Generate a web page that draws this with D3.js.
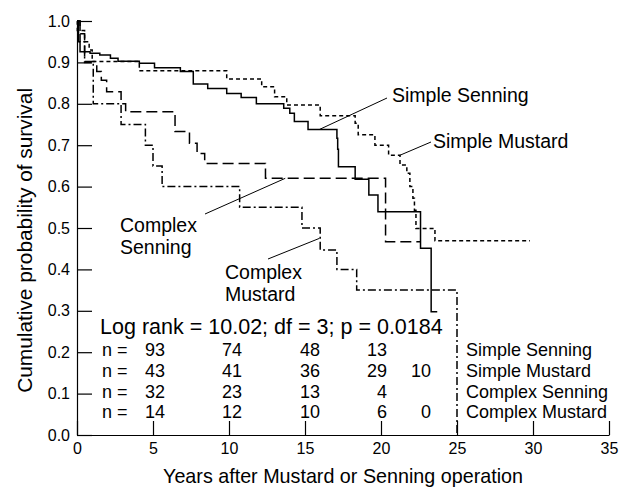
<!DOCTYPE html>
<html><head><meta charset="utf-8">
<script src="https://cdn.jsdelivr.net/npm/d3@7"></script>
<style>
body{margin:0;background:#fff}
text{font-family:"Liberation Sans",Arial,sans-serif;fill:#000}
</style>
</head><body>
<svg id="chart" width="620" height="488"></svg>
<script>
// ---- data ----
const xTicks = [0, 5, 10, 15, 20, 25, 30, 35];
const yTicks = [0, 0.1, 0.2, 0.3, 0.4, 0.5, 0.6, 0.7, 0.8, 0.9, 1.0];

const simpleSenningT = [0, 0.1, 0.2, 0.86, 1.5, 2.2, 2.7, 4.1, 5.1, 6.8, 7.65, 8.6, 9.85, 10.8, 11.8, 13.6, 14.0, 14.3, 15.2, 17.1, 17.15, 17.2, 18.3, 19.2, 19.8, 22.6, 23.3, 23.7];
const simpleSenningS = [1.0, 0.95, 0.926, 0.922, 0.918, 0.910, 0.903, 0.898, 0.887, 0.878, 0.848, 0.837, 0.825, 0.815, 0.800, 0.789, 0.777, 0.757, 0.738, 0.717, 0.69, 0.648, 0.618, 0.580, 0.539, 0.451, 0.298, 0.298];

const simpleMustardT = [0, 0.02, 0.5, 0.8, 1.0, 4.1, 9.85, 12.15, 13.0, 13.8, 16.0, 18.3, 18.5, 19.6, 20.5, 21.25, 21.7, 21.9, 22.1, 22.2, 22.3, 23.55, 29.8];
const simpleMustardS = [1.0, 0.977, 0.95, 0.93, 0.902, 0.880, 0.860, 0.841, 0.817, 0.797, 0.771, 0.753, 0.725, 0.700, 0.676, 0.652, 0.632, 0.600, 0.572, 0.543, 0.499, 0.469, 0.469];

const complexSenningT = [0, 0.2, 0.5, 1.3, 1.6, 1.95, 2.9, 3.2, 6.45, 7.4, 7.9, 8.4, 12.4, 20.3, 22.6];
const complexSenningS = [1.0, 0.969, 0.902, 0.878, 0.857, 0.829, 0.80, 0.781, 0.733, 0.705, 0.680, 0.656, 0.620, 0.467, 0.467];

const complexMustardT = [0, 0.2, 0.5, 1.07, 2.9, 4.5, 5.0, 5.6, 10.7, 14.8, 16.0, 17.1, 18.4, 25.0];
const complexMustardS = [1.0, 0.95, 0.90, 0.80, 0.75, 0.70, 0.65, 0.60, 0.55, 0.50, 0.447, 0.40, 0.35, 0.0];

const atRiskTimes = [5, 10, 15, 20, 25];
const atRiskSimpleSenning  = [93, 74, 48, 13, null];
const atRiskSimpleMustard  = [43, 41, 36, 29, 10];
const atRiskComplexSenning = [32, 23, 13, 4, null];
const atRiskComplexMustard = [14, 12, 10, 6, 0];
const seriesNames = ["Simple Senning", "Simple Mustard", "Complex Senning", "Complex Mustard"];
const logRankText = "Log rank = 10.02; df = 3; p = 0.0184";

// ---- drawing ----
const FONT = '"Liberation Sans",Arial,sans-serif';
const svg = d3.select("#chart");
const x = d3.scaleLinear().domain([0, 35]).range([77, 609]);
const y = d3.scaleLinear().domain([0, 1]).range([435, 21]);

function fit(sel, target) {
  const w = sel.node().getComputedTextLength();
  const fs = parseFloat(sel.attr("font-size")) * target / w;
  sel.attr("font-size", fs);
  return fs;
}

const zip = (T, S) => T.map((t, i) => [t, S[i]]);
const series = [
  {pts: zip(simpleSenningT, simpleSenningS), dash: null},
  {pts: zip(simpleMustardT, simpleMustardS), dash: "4,3"},
  {pts: zip(complexSenningT, complexSenningS), dash: "11,5"},
  {pts: zip(complexMustardT, complexMustardS), dash: "8,3,2,3"}
];

// axes
const yAxis = d3.axisLeft(y).tickValues(yTicks).tickFormat(d3.format(".1f"))
  .tickSizeInner(-15).tickSizeOuter(0).tickPadding(7);
const gy = svg.append("g").attr("transform", `translate(${x(0)},0)`).call(yAxis);
const xAxis = d3.axisBottom(x).tickValues(xTicks).tickFormat(d3.format("d"))
  .tickSizeInner(-14).tickSizeOuter(0).tickPadding(8);
const gx = svg.append("g").attr("transform", `translate(0,${y(0)})`).call(xAxis);
[gx, gy].forEach(g => {
  g.selectAll("path,line").attr("stroke", "#000").attr("stroke-width", 1.2);
  g.selectAll("text").attr("font-size", 16).attr("font-family", FONT).attr("fill", "#000");
});

// axis titles
const xt = svg.append("text").attr("x", (x(0) + x(35)) / 2).attr("y", 483)
  .attr("text-anchor", "middle").attr("font-size", 18)
  .text("Years after Mustard or Senning operation");
fit(xt, 360);
const yt = svg.append("text").attr("transform", `translate(32,${y(0.47)}) rotate(-90)`)
  .attr("text-anchor", "middle").attr("font-size", 18)
  .text("Cumulative probability of survival");
fit(yt, 305);

// curves
const line = d3.line().x(d => x(d[0])).y(d => y(d[1])).curve(d3.curveStepAfter);
series.forEach(s => {
  svg.append("path").attr("d", line(s.pts)).attr("fill", "none")
    .attr("stroke", "#000").attr("stroke-width", 1.5)
    .attr("stroke-dasharray", s.dash);
});

// curve labels with leader lines
const probe = svg.append("text").attr("font-size", 19).text("Complex");
const labSize = Math.min(fit(probe, 77), 19.6);
probe.remove();
function label(lines, tx, ty, lx1, ly1, lx2, ly2) {
  const t = svg.append("text").attr("x", tx).attr("y", ty).attr("font-size", labSize);
  lines.forEach((l, i) => t.append("tspan").attr("x", tx).attr("dy", i === 0 ? 0 : 22.2).text(l));
  svg.append("line").attr("x1", lx1).attr("y1", ly1).attr("x2", lx2).attr("y2", ly2)
    .attr("stroke", "#000").attr("stroke-width", 1);
}
label(["Simple Senning"], 392, 102, 387, 98, x(15.95), y(0.738));
label(["Simple Mustard"], 433, 148, 431, 142, x(21.2), y(0.675));
label(["Complex", "Senning"], 120, 232, 205, 214, x(13.7), y(0.62));
label(["Complex", "Mustard"], 225, 279, 268, 259, x(15.95), y(0.475));

// log rank line
const lr = svg.append("text").attr("x", 100).attr("y", y(0.261) + 7).attr("font-size", 20).text(logRankText);
fit(lr, 343);

// numbers at risk table
const probe2 = svg.append("text").attr("font-size", 17).text(seriesNames[3]);
const tblSize = Math.min(fit(probe2, 141), 18.2);
probe2.remove();
const rows = [atRiskSimpleSenning, atRiskSimpleMustard, atRiskComplexSenning, atRiskComplexMustard];
const rowLevels = [0.205, 0.155, 0.105, 0.055];
const colShift = [12, 13, 15, 6, -26];
const tbl = svg.append("g").attr("font-size", tblSize);
rows.forEach((r, i) => {
  const by = y(rowLevels[i]) + 6;
  tbl.append("text").attr("x", 102).attr("y", by).text("n =");
  r.forEach((v, j) => {
    if (v === null) return;
    tbl.append("text").attr("x", x(atRiskTimes[j]) + colShift[j]).attr("y", by)
      .attr("text-anchor", "end").text(v);
  });
  tbl.append("text").attr("x", x(25) + 9).attr("y", by).text(seriesNames[i]);
});
</script>
</body></html>
